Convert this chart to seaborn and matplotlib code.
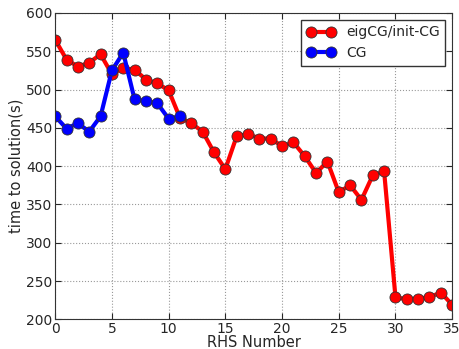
import pandas as pd
import numpy as np
import matplotlib
matplotlib.use("Agg")
import matplotlib.pyplot as plt
import seaborn as sns
from matplotlib.lines import Line2D

rhs_eig = list(range(36))
time_eig = [565, 539, 530, 535, 546, 520, 528, 526, 513, 508,
            499, 463, 456, 445, 418, 396, 439, 442, 436, 436,
            426, 431, 413, 391, 406, 366, 375, 356, 388, 393,
            229, 226, 227, 229, 235, 219]

rhs_cg = list(range(12))
time_cg = [465, 449, 456, 445, 465, 525, 548, 487, 485, 482, 462, 465]

df = pd.concat([
    pd.DataFrame({"RHS": rhs_eig, "time": time_eig, "method": "eigCG/init-CG"}),
    pd.DataFrame({"RHS": rhs_cg, "time": time_cg, "method": "CG"}),
])

sns.set_style("ticks")
plt.rcParams['font.family'] = ['DejaVu Sans']

fig = plt.figure(figsize=(4.6, 3.49), dpi=100)
ax = fig.add_axes([0.12, 0.085, 0.863, 0.878])

sns.lineplot(data=df, x="RHS", y="time", hue="method",
             palette={"eigCG/init-CG": "#ff0000", "CG": "#0000ff"},
             marker="o", markersize=8, linewidth=3,
             markeredgecolor="#333333", markeredgewidth=0.6,
             ax=ax, legend=False)

ax.set_xlim(0, 35)
ax.set_ylim(200, 600)
ax.set_xticks(range(0, 36, 5))
ax.set_yticks(range(200, 601, 50))
ax.grid(True, linestyle=":", color="#999999", linewidth=0.8)
ax.tick_params(labelsize=10, direction="in", length=4, pad=2,
               top=True, right=True)
ax.set_xlabel("RHS Number", fontsize=10.5, labelpad=-1)
ax.set_ylabel("time to solution(s)", fontsize=10.5, labelpad=2)
for s in ax.spines.values():
    s.set_color("#333333")

handles = [
    Line2D([], [], color="#ff0000", lw=3, marker="o", markersize=8,
           markeredgecolor="#333333", markeredgewidth=0.6),
    Line2D([], [], color="#0000ff", lw=3, marker="o", markersize=8,
           markeredgecolor="#333333", markeredgewidth=0.6),
]
ax.legend(handles, ["eigCG/init-CG", "CG"], loc="upper right", numpoints=2,
          fontsize=10, fancybox=False, edgecolor="#333333",
          framealpha=1, handlelength=2, borderpad=0.4)

fig.savefig("out.png", dpi=100)
